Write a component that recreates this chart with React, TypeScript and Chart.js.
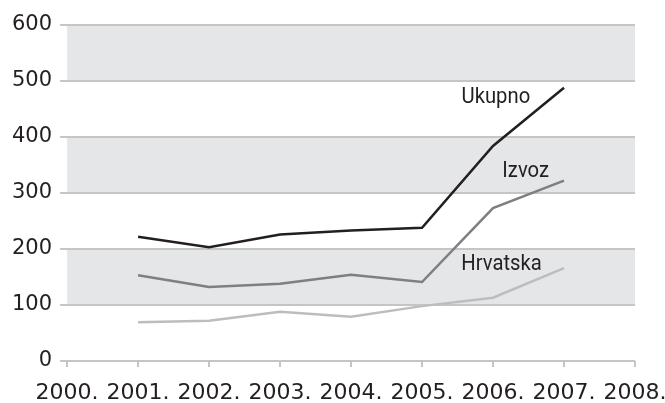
import React, { useEffect, useRef } from 'react';
import { Chart, registerables } from 'chart.js';

Chart.register(...registerables);

const years = ['2000.', '2001.', '2002.', '2003.', '2004.', '2005.', '2006.', '2007.', '2008.'];
const ukupno = [null, 222, 203, 226, 233, 238, 384, 488, null];
const izvoz = [null, 153, 132, 138, 154, 141, 273, 322, null];
const hrvatska = [null, 69, 72, 88, 79, 98, 113, 166, null];

const yMin = 0;
const yMax = 600;
const yStep = 100;
const shadedBands = [
  [100, 200],
  [300, 400],
  [500, 600],
];

const seriesNames = ['Ukupno', 'Izvoz', 'Hrvatska'];
const nameAtIndex = [6.04, 6.46, 6.12];
const nameAtValue = [470, 339, 173];

const GRID = '#c5c5c7';
const BAND = '#e5e6e8';
const TEXT = '#231f20';

const bandsPlugin = {
  id: 'bands',
  beforeDraw(chart: any) {
    const { ctx, chartArea, scales } = chart;
    const y = scales.y;
    ctx.save();
    ctx.fillStyle = BAND;
    shadedBands.forEach(([a, b]) => {
      const y1 = y.getPixelForValue(b);
      const y2 = y.getPixelForValue(a);
      ctx.fillRect(chartArea.left, y1, chartArea.right - chartArea.left, y2 - y1);
    });
    ctx.restore();
  },
};

const namesPlugin = {
  id: 'names',
  afterDatasetsDraw(chart: any) {
    const { ctx, scales } = chart;
    ctx.save();
    ctx.fillStyle = TEXT;
    ctx.font = '22px Roboto';
    ctx.textAlign = 'center';
    ctx.textBaseline = 'middle';
    seriesNames.forEach((name, i) => {
      const px = scales.x.getPixelForValue(nameAtIndex[i]);
      const py = scales.y.getPixelForValue(nameAtValue[i]);
      ctx.save();
      ctx.translate(px, py);
      ctx.scale(0.92, 1);
      ctx.fillText(name, 0, 0);
      ctx.restore();
    });
    ctx.restore();
  },
};

export default function App() {
  const ref = useRef<HTMLCanvasElement>(null);
  useEffect(() => {
    if (!ref.current) return;
    const chart = new Chart(ref.current, {
      type: 'line',
      data: {
        labels: years,
        datasets: [
          { label: 'Ukupno', data: ukupno, borderColor: '#231f20', borderWidth: 2.5, pointRadius: 0, tension: 0 },
          { label: 'Izvoz', data: izvoz, borderColor: '#7f7f81', borderWidth: 2.5, pointRadius: 0, tension: 0 },
          { label: 'Hrvatska', data: hrvatska, borderColor: '#bdbdbf', borderWidth: 2.5, pointRadius: 0, tension: 0 },
        ],
      },
      options: {
        responsive: false,
        animation: false,
        layout: { padding: { top: 25, left: 4, right: 0, bottom: 0 } },
        plugins: { legend: { display: false }, tooltip: { enabled: false } },
        scales: {
          x: {
            offset: false,
            border: { display: false },
            grid: { drawOnChartArea: false, drawTicks: true, tickLength: 6, color: GRID, lineWidth: 2 },
            ticks: { color: TEXT, font: { family: 'DejaVu Sans', size: 22 }, padding: 13, maxRotation: 0, autoSkip: false },
            afterFit(scale: any) {
              scale.height = 42;
              scale.paddingRight = 30;
            },
          },
          y: {
            min: yMin,
            max: yMax,
            border: { display: false },
            grid: { color: GRID, lineWidth: 2, drawTicks: true, tickLength: 7 },
            ticks: { stepSize: yStep, color: TEXT, font: { family: 'DejaVu Sans', size: 21 }, padding: 8 },
          },
        },
      },
      plugins: [bandsPlugin, namesPlugin],
    });
    return () => chart.destroy();
  }, []);
  return (
    <div style={{ position: 'absolute', left: 0, top: 0 }}>
      <canvas ref={ref} width={665} height={403} />
    </div>
  );
}
